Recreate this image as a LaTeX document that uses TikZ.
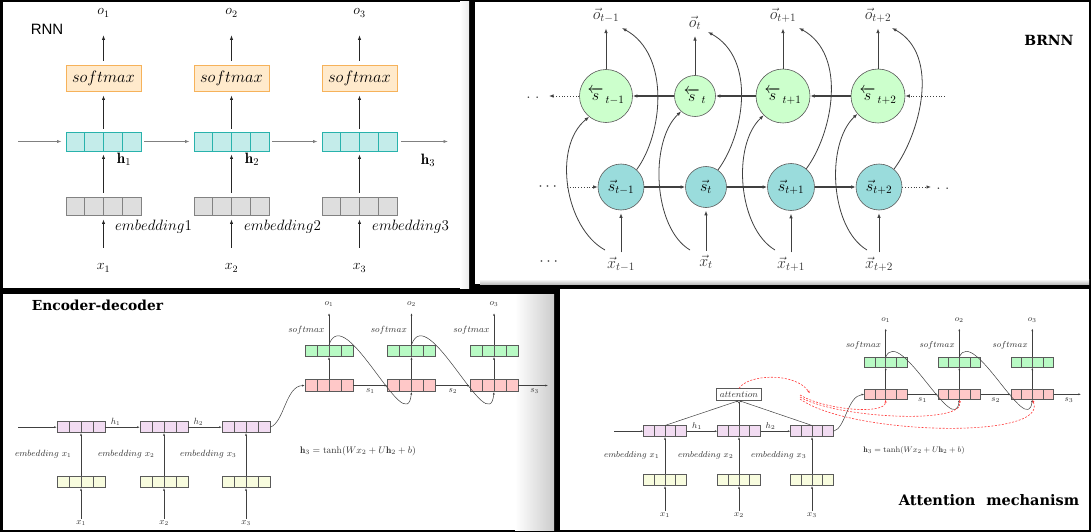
\RequirePackage{fix-cm}
\documentclass[tikz,border=0pt]{standalone}
\usepackage{amsmath}
\usepackage{fontspec}
\newfontfamily\sansT{Liberation Sans}
\newfontfamily\titleT{DejaVu Serif}
\usetikzlibrary{arrows.meta,calc}
\newcommand\myfs[1]{\fontsize{#1}{#1}\selectfont}
\definecolor{smfill}{RGB}{255,234,204}
\definecolor{smdraw}{RGB}{246,178,90}
\definecolor{hfill}{RGB}{196,236,234}
\definecolor{hdraw}{RGB}{40,178,172}
\definecolor{efill}{RGB}{222,222,222}
\definecolor{edraw}{RGB}{130,130,130}
\definecolor{ctopfill}{RGB}{204,255,204}
\definecolor{cbotfill}{RGB}{154,220,220}
\definecolor{cdraw}{RGB}{90,90,90}
\definecolor{lavfill}{RGB}{242,220,242}
\definecolor{yelfill}{RGB}{248,252,222}
\definecolor{grnfill}{RGB}{184,250,196}
\definecolor{pnkfill}{RGB}{255,200,200}
\definecolor{bxdraw}{RGB}{90,90,90}
\definecolor{lblc}{RGB}{50,50,50}
\definecolor{redd}{RGB}{255,60,60}
\tikzset{
  cellbox/.style n args={3}{draw=#2, fill=#1, line width=#3, rectangle, inner sep=0pt,
    path picture={\foreach \k in {0.25,0.5,0.75}{\draw[draw=#2, line width=#3]
      ($(path picture bounding box.south west)!\k!(path picture bounding box.south east)$) --
      ($(path picture bounding box.north west)!\k!(path picture bounding box.north east)$);}}},
  smbox/.style={draw=smdraw, fill=smfill, line width=0.8pt, minimum width=75pt, minimum height=26pt, inner sep=0pt, font=\myfs{16.5}},
  arrA/.style={-{Latex[length=4.5pt,width=3.2pt]}, line width=0.7pt, draw=black!85},
  arrG/.style={arrA, draw=gray},
  arrB/.style={-{Latex[length=4.5pt,width=3.5pt]}, line width=0.8pt, draw=black!75},
  arrBt/.style={arrB, line width=1.3pt},
  arrD/.style={arrB, dotted},
  arrS/.style={-{Latex[length=2.6pt,width=2pt]}, line width=0.5pt, draw=black!75},
  reddash/.style={-{Latex[length=3pt,width=2.2pt]}, draw=redd, dash pattern=on 2pt off 1.5pt, line width=0.6pt},
  ctop/.style={circle, draw=cdraw, fill=ctopfill, line width=0.6pt, inner sep=0pt, font=\myfs{16}},
  cbot/.style={circle, draw=cdraw, fill=cbotfill, line width=0.6pt, inner sep=0pt, font=\myfs{16}},
  lab1/.style={font=\myfs{14}, inner sep=2pt},
  lab2/.style={font=\myfs{16}, inner sep=2pt, text=black!80},
  lab3/.style={font=\myfs{9}, inner sep=1.5pt, text=lblc},
  lab4/.style={font=\myfs{8.5}, inner sep=1.5pt, text=lblc},
}
\begin{document}
\begin{tikzpicture}[x=1pt,y=-1pt]
\useasboundingbox (0,0) rectangle (1091,532);
\fill[black] (0,0) rectangle (1091,532);
\fill[white] (3,2) rectangle (469,288);
\fill[white] (475,2) rectangle (1089,284);
\fill[white] (3,294) rectangle (554,530);
\fill[white] (560,289) rectangle (1089,530);
\shade[left color=white, right color=black!20] (515,294) rectangle (554,530);
\shade[left color=white, right color=black!8] (460,2) rectangle (469,288);
\shade[top color=white, bottom color=black!25] (480,279) rectangle (1089,284);

% ---------------- Panel 1: RNN
\node[font=\sansT\myfs{15}] (rnnT) at (47,29) {RNN};
\foreach \i/\x in {1/103.5,2/231.5,3/359.5} {
  \node[smbox] (sm\i) at (\x,78) {$softmax$};
  \node[cellbox={hfill}{hdraw}{0.8pt}, minimum width=75pt, minimum height=19pt] (h\i) at (\x,141.5) {};
  \node[cellbox={efill}{edraw}{0.8pt}, minimum width=75pt, minimum height=18pt] (em\i) at (\x,206) {};
  \node[lab1] (o\i) at (\x,13) {$o_{\i}$};
  \node[lab1] (x\i) at (\x,268) {$x_{\i}$};
  \draw[arrA, shorten <=3pt, shorten >=4pt] (h\i) -- (sm\i);
  \draw[arrA, shorten <=4pt, shorten >=16pt] (sm\i) -- (o\i);
  \draw[arrA, shorten <=4pt, shorten >=3pt] (em\i) -- (h\i);
  \draw[arrA, shorten <=14pt, shorten >=4pt] (x\i) -- (em\i);
}
\coordinate (hin) at (18,141.5);
\coordinate (hout) at (448,141.5);
\draw[arrG, shorten >=4pt] (hin) -- (h1.west);
\draw[arrG, shorten <=3pt, shorten >=4pt] (h1.east) -- (h2.west);
\draw[arrG, shorten <=3pt, shorten >=4pt] (h2.east) -- (h3.west);
\draw[arrG, shorten <=4pt] (h3.east) -- (hout);
\node[font=\myfs{15}] (hl1) at (124,159) {$\mathbf{h}_1$};
\node[font=\myfs{15}] (hl2) at (252,159) {$\mathbf{h}_2$};
\node[font=\myfs{15}] (hl3) at (428,160) {$\mathbf{h}_3$};
\node[font=\myfs{15}, anchor=west, inner sep=0pt] (eml1) at (115,227) {$embedding1$};
\node[font=\myfs{15}, anchor=west, inner sep=0pt] (eml2) at (244,227) {$embedding2$};
\node[font=\myfs{15}, anchor=west, inner sep=0pt] (eml3) at (372,227) {$embedding3$};

% ---------------- Panel 2: BRNN
\node[font=\titleT\bfseries\myfs{14}] (brnnT) at (1049,40) {BRNN};
\node[ctop, minimum size=53pt] (c1) at (606,96) {$\overleftarrow{s}{}_{\,t-1}$};
\node[ctop, minimum size=41pt] (c2) at (695,96) {$\overleftarrow{s}{}_{\,t}$};
\node[ctop, minimum size=54pt] (c3) at (783,96) {$\overleftarrow{s}{}_{\,t+1}$};
\node[ctop, minimum size=54pt] (c4) at (878,96) {$\overleftarrow{s}{}_{\,t+2}$};
\node[cbot, minimum size=46pt] (d1) at (621,187) {$\vec{s}_{t-1}$};
\node[cbot, minimum size=41pt] (d2) at (706,187) {$\vec{s}_{t}$};
\node[cbot, minimum size=47pt] (d3) at (791,187) {$\vec{s}_{t+1}$};
\node[cbot, minimum size=46pt] (d4) at (879,187) {$\vec{s}_{t+2}$};
\node[lab2] (o1) at (606,15) {$\vec{o}_{t-1}$};
\node[lab2] (o2) at (695,23) {$\vec{o}_{t}$};
\node[lab2] (o3) at (783,15) {$\vec{o}_{t+1}$};
\node[lab2] (o4) at (878,15) {$\vec{o}_{t+2}$};
\node[lab2] (xl1) at (621,264) {$\vec{x}_{t-1}$};
\node[lab2] (xl2) at (706,262) {$\vec{x}_{t}$};
\node[lab2] (xl3) at (791,264) {$\vec{x}_{t+1}$};
\node[lab2] (xl4) at (879,264) {$\vec{x}_{t+2}$};
\foreach \i in {1,2,3,4} {
  \draw[arrB, shorten >=4pt] (c\i) -- (o\i);
  \draw[arrB, shorten <=2pt, shorten >=3pt] (xl\i) -- (d\i);
}
\draw[arrBt] (c4) -- (c3);
\draw[arrBt] (c3) -- (c2);
\draw[arrBt] (c2) -- (c1);
\draw[arrBt] (d1) -- (d2);
\draw[arrBt] (d2) -- (d3);
\draw[arrBt] (d3) -- (d4);
\coordinate (ltop) at (549,96);
\coordinate (rtop) at (945,96);
\coordinate (blin) at (567,187);
\coordinate (brout) at (931,187);
\draw[arrD] (c1) -- (ltop);
\draw[arrD] (rtop) -- (c4);
\draw[arrD] (blin) -- (d1);
\draw[arrD] (d4) -- (brout);
\node[lab2] (tldots) at (533,98) {$.\;.$};
\node[lab2] (bldots) at (549,187) {$\cdots$};
\node[lab2] (brdots) at (943,189) {$.\;.$};
\node[lab2] (xldots) at (550,262) {$\cdots$};
% curves x -> backward states
\draw[arrB] ($(xl1)+(-16,-14)$) .. controls +(-40,-22) and +(-37,30) .. (c1.231);
\draw[arrB] ($(xl2)+(-16,-12)$) .. controls +(-37,-22) and +(-32,30) .. (c2.228);
\draw[arrB] ($(xl3)+(-16,-14)$) .. controls +(-37,-22) and +(-32,30) .. (c3.225);
\draw[arrB] ($(xl4)+(-12,-14)$) .. controls +(-37,-22) and +(-32,30) .. (c4.221);
% curves forward states -> outputs
\draw[arrB] (d1.48) .. controls +(26,-35) and +(49,27) .. ($(o1)+(16,13)$);
\draw[arrB] (d2.55) .. controls +(26,-35) and +(49,27) .. ($(o2)+(13,9)$);
\draw[arrB] (d3.50) .. controls +(26,-35) and +(49,27) .. ($(o3)+(16,13)$);
\draw[arrB] (d4.50) .. controls +(26,-35) and +(49,27) .. ($(o4)+(14,13)$);

% ---------------- Panel 3: Encoder-decoder
\node[font=\titleT\bfseries\myfs{13.8}] (edT) at (97.5,305) {Encoder-decoder};
\foreach \i/\x in {1/81,2/164,3/246} {
  \node[cellbox={lavfill}{bxdraw}{0.5pt}, minimum width=48pt, minimum height=11pt] (ae\i) at (\x,427.2) {};
  \node[cellbox={yelfill}{bxdraw}{0.5pt}, minimum width=48pt, minimum height=11pt] (ay\i) at (\x,482.2) {};
  \node[lab3] (ax\i) at (\x,523) {$x_{\i}$};
  \draw[arrS] (ax\i) -- (ay\i);
  \draw[arrS] (ay\i) -- (ae\i);
  \node[lab3, anchor=east] (aem\i) at (\x-8,454) {$embedding\ x_{\i}$};
}
\coordinate (ain) at (18,427.2);
\draw[arrS] (ain) -- (ae1);
\draw[arrS] (ae1) -- node[lab3, above=0pt, pos=0.3] (ah1) {$h_1$} (ae2);
\draw[arrS] (ae2) -- node[lab3, above=0pt, pos=0.3] (ah2) {$h_2$} (ae3);
\foreach \i/\x in {1/329,2/411.5,3/494} {
  \node[cellbox={pnkfill}{bxdraw}{0.5pt}, minimum width=48pt, minimum height=12.4pt] (bd\i) at (\x,385.5) {};
  \node[cellbox={grnfill}{bxdraw}{0.5pt}, minimum width=48pt, minimum height=11.7pt] (gd\i) at (\x,350.8) {};
  \node[lab3] (bo\i) at (\x,304) {$o_{\i}$};
  \node[lab3, anchor=east] (bsm\i) at (\x-3,330.7) {$softmax$};
  \draw[arrS] (bd\i) -- (gd\i);
  \draw[arrS, shorten >=5pt] (gd\i) -- (bo\i);
}
\draw[arrS] (gd1.north) .. controls +(16,-45) and +(-5,50) .. (bd2.south);
\draw[arrS] (gd2.north) .. controls +(16,-45) and +(-5,50) .. (bd3.south);
\draw[arrS] (bd1) -- node[lab3, below=1pt] (bs1) {$s_1$} (bd2);
\draw[arrS] (bd2) -- node[lab3, below=1pt] (bs2) {$s_2$} (bd3);
\coordinate (bout) at (548,385.5);
\draw[arrS] (bd3) -- node[lab3, below=1pt, pos=0.55] (bs3) {$s_3$} (bout);
\draw[arrS] (ae3.east) .. controls +(14,-5) and +(-19,0.5) .. (bd1.west);
\node[lab3, font=\myfs{9.5}] (beq) at (358,450.7) {$\mathbf{h}_3=\tanh(Wx_2+U\mathbf{h}_2+b)$};

% ---------------- Panel 4: Attention
\node[font=\titleT\bfseries\myfs{14.5}] (attT) at (989,500) {Attention\hspace{0.4em} mechanism};
\foreach \i/\x in {1/665,2/739,3/812} {
  \node[cellbox={lavfill}{bxdraw}{0.5pt}, minimum width=42.7pt, minimum height=11pt] (pe\i) at (\x,431.2) {};
  \node[cellbox={yelfill}{bxdraw}{0.5pt}, minimum width=42.7pt, minimum height=11.4pt] (py\i) at (\x,480) {};
  \node[lab4] (px\i) at (\x,515) {$x_{\i}$};
  \draw[arrS] (px\i) -- (py\i);
  \draw[arrS] (py\i) -- (pe\i);
  \node[lab4, anchor=east] (pem\i) at (\x-4,455.7) {$embedding\ x_{\i}$};
}
\coordinate (pin) at (614,431.2);
\draw[arrS] (pin) -- (pe1);
\draw[arrS] (pe1) -- node[lab4, above=0pt, pos=0.34] (ph1) {$h_1$} (pe2);
\draw[arrS] (pe2) -- node[lab4, above=0pt, pos=0.33] (ph2) {$h_2$} (pe3);
\node[draw=bxdraw, line width=0.7pt, fill=white, minimum width=45.4pt, minimum height=11.5pt, inner sep=0pt, font=\myfs{9}, text=lblc] (att) at (739,394.5) {$attention$};
\draw[arrS] (pe1.north) -- (att.south);
\draw[arrS] (pe2) -- (att);
\draw[arrS] (pe3.north) -- (att.south);
\foreach \i/\x in {1/885.7,2/959.3,3/1032.3} {
  \node[cellbox={pnkfill}{bxdraw}{0.5pt}, minimum width=42.4pt, minimum height=10pt] (qd\i) at (\x,394.3) {};
  \node[cellbox={grnfill}{bxdraw}{0.5pt}, minimum width=42.4pt, minimum height=10pt] (qg\i) at (\x,362.3) {};
  \node[lab4] (qo\i) at (\x,320.5) {$o_{\i}$};
  \node[lab4, anchor=east] (qsm\i) at (\x-3,345) {$softmax$};
  \draw[arrS] (qd\i) -- (qg\i);
  \draw[arrS, shorten >=4pt] (qg\i) -- (qo\i);
}
\draw[arrS] (qg1.north) .. controls +(14,-32) and +(-5,40) .. (qd2.south);
\draw[arrS] (qg2.north) .. controls +(14,-32) and +(-5,40) .. (qd3.south);
\draw[arrS] (qd1) -- node[lab4, below=1.5pt] (qs1) {$s_1$} (qd2);
\draw[arrS] (qd2) -- node[lab4, below=1.5pt] (qs2) {$s_2$} (qd3);
\coordinate (qout) at (1081,394.3);
\draw[arrS] (qd3) -- node[lab4, below=1.5pt, pos=0.56] (qs3) {$s_3$} (qout);
\draw[arrS] (pe3.east) .. controls +(12,-3) and +(-17,2) .. (qd1.west);
\node[lab4, font=\myfs{8}] (qeq) at (914,450) {$\mathbf{h}_3=\tanh(Wx_2+U\mathbf{h}_2+b)$};
% red dashed attention curves
\coordinate (rtip) at (810,393.5);
\coordinate (rs1) at (800,395);
\coordinate (rs2) at (800,397);
\coordinate (rs3) at (800,399);
\draw[reddash] (att.north) .. controls (748,374) and (795,372) .. (rtip);
\draw[reddash] (rs1) .. controls (825,410) and (885,415) .. (qd1.south);
\draw[reddash] (rs2) .. controls (835,418) and (965,425) .. (qd2.south);
\draw[reddash] (rs3) .. controls (850,435) and (1050,440) .. (qd3.south);
\end{tikzpicture}
\end{document}
